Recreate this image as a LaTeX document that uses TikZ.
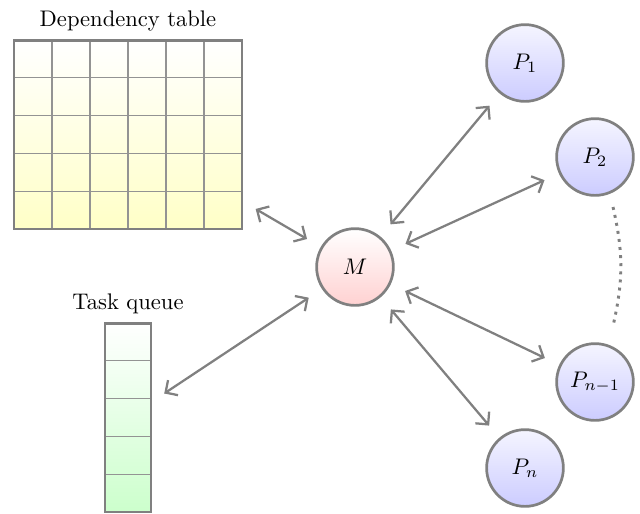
\documentclass[tikz,border=0pt]{standalone}
\usetikzlibrary{arrows.meta}
\begin{document}
\begin{tikzpicture}[x=0.443pt,y=-0.443pt,
  framebox/.style={draw=gray, line width=1.3pt},
  cellline/.style={draw=gray!85, line width=0.5pt},
  proc/.style={circle, draw=gray, line width=1.2pt, minimum size=34pt, inner sep=0pt, top color=blue!4, bottom color=blue!20},
  master/.style={circle, draw=gray, line width=1.2pt, minimum size=34pt, inner sep=0pt, top color=white, bottom color=red!18},
  link/.style={gray, line width=1pt, {Straight Barb[length=4pt,width=8pt]}-{Straight Barb[length=4pt,width=8pt]}, shorten <=7pt, shorten >=7pt},
]
\useasboundingbox (0,0) rectangle (640,513);

% Dependency table
\node[inner sep=0pt, outer sep=0pt, minimum width=101pt, minimum height=83.7pt, top color=white, bottom color=yellow!22] (table) at (128,134.5) {};
\foreach \xx in {52,90,128,166,204} \draw[cellline] (\xx,40) -- (\xx,229);
\foreach \yy in {77.8,115.6,153.4,191.2} \draw[cellline] (14,\yy) -- (242,\yy);
\draw[framebox] (table.north west) rectangle (table.south east);
\node (tabletitle) at (128,20.5) {Dependency table};

% Task queue
\node[inner sep=0pt, outer sep=0pt, minimum width=20.4pt, minimum height=83.7pt, top color=white, bottom color=green!20] (queue) at (128,417.5) {};
\foreach \yy in {360.8,398.6,436.4,474.2} \draw[cellline] (105,\yy) -- (151,\yy);
\draw[framebox] (queue.north west) rectangle (queue.south east);
\node (queuetitle) at (128,303.5) {Task queue};

% Master and processors
\node[master] (M) at (355,267) {$M$};
\node[proc] (P1) at (525,63) {$P_1$};
\node[proc] (P2) at (595,157) {$P_2$};
\node[proc] (Pm) at (595,382) {$P_{n-1}$};
\node[proc] (Pn) at (525,468) {$P_n$};

% Connectors
\draw[link] (table) -- (M);
\draw[link] (queue) -- (M);
\draw[link] (M) -- (P1);
\draw[link] (M) -- (P2);
\draw[link] (M) -- (Pm);
\draw[link] (M) -- (Pn);

% dotted continuation
\coordinate (dtop) at (613,207);
\coordinate (dbot) at (613,326);
\draw[gray, line width=1.3pt, dash pattern=on 1.3pt off 2.3pt] (dtop) to[bend left=13] (dbot);
\end{tikzpicture}
\end{document}
